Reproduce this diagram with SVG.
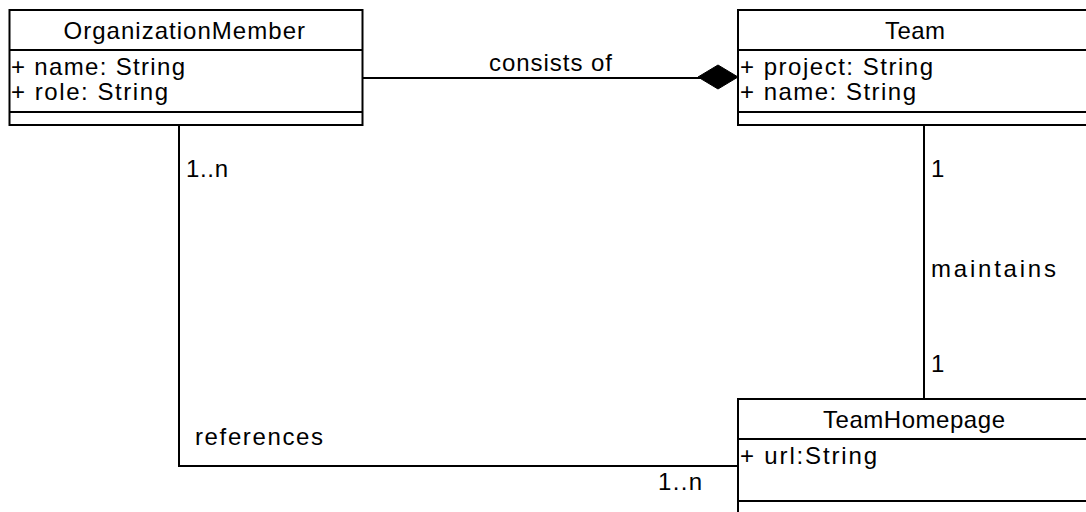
<svg xmlns="http://www.w3.org/2000/svg" width="1086" height="512" viewBox="0 0 1086 512">
  <style>
    .box { fill: #ffffff; stroke: #000000; stroke-width: 2; }
    .sep { stroke: #000000; stroke-width: 2; }
    .edge { fill: none; stroke: #000000; stroke-width: 2; }
    text { font-family: "Liberation Sans", Arial, sans-serif; font-size: 24px; fill: #000000; }
  </style>
  <rect width="1086" height="512" fill="#ffffff"/>

  <!-- connectors -->
  <g id="connectors">
    <path class="edge" d="M362,78 H700"/>
    <polygon points="698,77 718,65 738,77 718,89" fill="#000000" stroke="#000000" stroke-width="1"/>
    <path class="edge" d="M179,125 V466 H738"/>
    <path class="edge" d="M924,125 V399"/>
    <text x="489" y="71" textLength="123">consists of</text>
    <text x="186" y="177" textLength="42">1..n</text>
    <text x="195" y="445" textLength="128">references</text>
    <text x="658" y="490" textLength="44">1..n</text>
    <text x="931" y="177">1</text>
    <text x="931" y="277" textLength="125">maintains</text>
    <text x="931" y="372">1</text>
  </g>

  <!-- class: OrganizationMember -->
  <g id="OrganizationMember">
    <rect class="box" x="9.5" y="10" width="353" height="115"/>
    <line class="sep" x1="9.5" y1="50" x2="362.5" y2="50"/>
    <line class="sep" x1="9.5" y1="112" x2="362.5" y2="112"/>
    <text x="63.5" y="39" textLength="241.5">OrganizationMember</text>
    <text x="11" y="75" textLength="174">+ name: String</text>
    <text x="11" y="100" textLength="157">+ role: String</text>
  </g>

  <!-- class: Team -->
  <g id="Team">
    <rect class="box" x="738" y="10" width="353" height="115"/>
    <line class="sep" x1="738" y1="50" x2="1091" y2="50"/>
    <line class="sep" x1="738" y1="112" x2="1091" y2="112"/>
    <text x="885" y="39" textLength="60">Team</text>
    <text x="740" y="75" textLength="193">+ project: String</text>
    <text x="740" y="100" textLength="176">+ name: String</text>
  </g>

  <!-- class: TeamHomepage -->
  <g id="TeamHomepage">
    <rect class="box" x="738" y="399" width="353" height="130"/>
    <line class="sep" x1="738" y1="439" x2="1091" y2="439"/>
    <line class="sep" x1="738" y1="501" x2="1091" y2="501"/>
    <text x="823" y="428" textLength="182">TeamHomepage</text>
    <text x="740" y="464" textLength="137">+ url:String</text>
  </g>
</svg>
